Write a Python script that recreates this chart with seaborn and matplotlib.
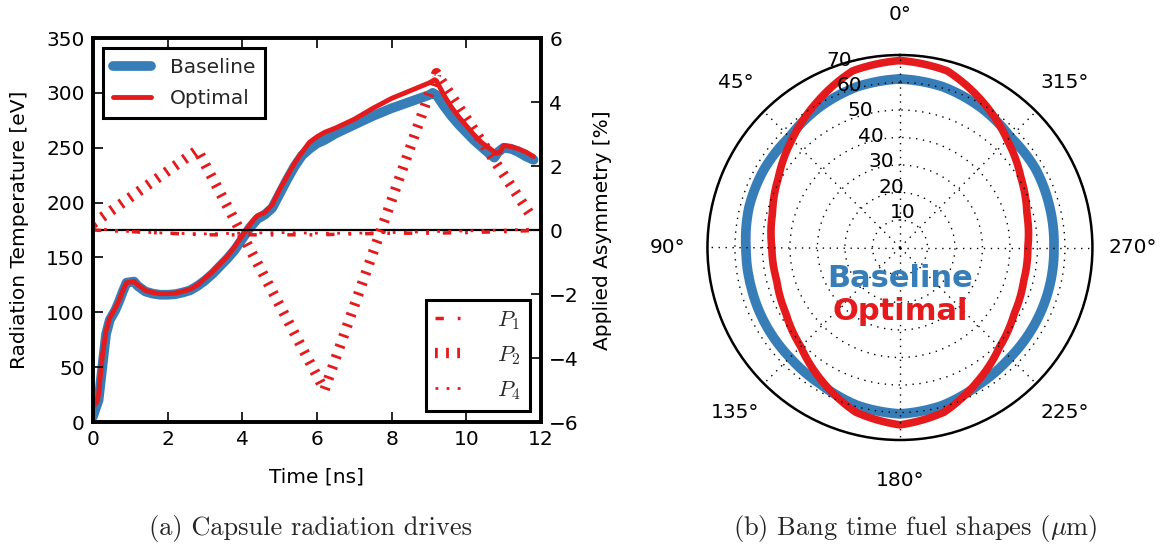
import numpy as np
import matplotlib
matplotlib.use("Agg")
import matplotlib.pyplot as plt
import seaborn as sns

# Radiation drive temperature [eV] against time [ns]
time_base = [0.0, 0.1, 0.15, 0.25, 0.35, 0.45, 0.6, 0.7, 0.8, 0.9, 1.1, 1.2, 1.4, 1.6, 1.8,
             2.0, 2.2, 2.4, 2.6, 2.8, 3.0, 3.2, 3.4, 3.6, 3.8, 4.0, 4.2, 4.4, 4.6, 4.8,
             5.0, 5.2, 5.4, 5.6, 5.8, 6.0, 6.2, 6.5, 7.0, 7.5, 8.0, 8.5, 9.0, 9.1, 9.2,
             9.4, 9.6, 9.8, 10.0, 10.2, 10.4, 10.6, 10.75, 10.85, 11.0, 11.2, 11.4, 11.6, 11.8]
temp_base = [5, 15, 20, 50, 80, 93, 102, 110, 119, 127, 128, 124, 119, 117, 116,
             116, 116.5, 118, 120, 124, 129, 135, 142, 149, 157, 167, 177, 185, 189, 195,
             208, 221, 233, 243, 249, 254, 257, 263, 271, 279, 286, 292, 298, 300, 298,
             288, 279, 271, 264, 257, 251, 245, 241, 246, 250, 249, 246, 242, 239]

time_opt = [0.0, 0.1, 0.15, 0.25, 0.35, 0.45, 0.6, 0.7, 0.8, 0.9, 1.1, 1.2, 1.4, 1.6, 1.8,
            2.0, 2.2, 2.4, 2.6, 2.8, 3.0, 3.2, 3.4, 3.6, 3.8, 4.0, 4.2, 4.4, 4.6, 4.8,
            5.0, 5.2, 5.4, 5.6, 5.8, 6.0, 6.2, 6.5, 7.0, 7.5, 8.0, 8.5, 9.0, 9.15, 9.2,
            9.4, 9.6, 9.8, 10.0, 10.2, 10.4, 10.6, 10.8, 10.9, 11.0, 11.2, 11.4, 11.6, 11.8]
temp_opt = [14, 18, 25, 60, 83, 95, 104, 111, 120, 127, 128, 125, 120, 118, 117,
            117, 117.5, 119, 121, 125, 131, 137, 144, 151, 160, 170, 180, 188, 191, 198,
            212, 224, 236, 246, 255, 260, 264, 268, 276, 286, 295, 302, 309, 312, 311,
            298, 287, 278, 270, 262, 255, 250, 245, 246, 252, 251, 249, 246, 242]

# Applied drive asymmetry modes [%]
time_p2 = [0.0, 2.8, 6.2, 9.2, 11.7]
asym_p2 = [0.2, 2.5, -5.0, 4.9, 0.5]
time_p14 = [0.0, 1.0, 2.0, 3.0, 4.0, 5.0, 6.0, 7.0, 8.0, 9.0, 10.0, 11.0, 11.7]
asym_p1 = [0.0, -0.05, -0.1, -0.15, -0.15, -0.15, -0.15, -0.12, -0.1, -0.1, -0.08, -0.05, -0.02]
asym_p4 = [0.05, -0.05, -0.1, -0.12, -0.1, -0.08, -0.1, -0.1, -0.08, -0.05, -0.03, 0.0, 0.02]

# Fuel shell radius at bang time [um] against polar angle [deg]
angle_deg = [0, 15, 30, 45, 60, 75, 90, 105, 120, 135, 150, 165, 180,
             195, 210, 225, 240, 255, 270, 285, 300, 315, 330, 345, 360]
radius_base = [61.3, 60.5, 58.8, 56.8, 57.0, 56.8, 56.0, 56.0, 56.3, 56.6, 57.5, 59.5, 60.5,
               59.5, 57.5, 56.6, 56.4, 56.2, 56.0, 56.4, 57.0, 56.8, 58.8, 60.5, 61.3]
radius_opt = [68.0, 66.5, 60.8, 55.5, 51.0, 48.0, 46.6, 46.4, 47.9, 51.0, 56.3, 62.0, 64.5,
              62.0, 56.3, 51.2, 48.0, 46.6, 46.5, 47.8, 50.8, 55.2, 60.8, 66.5, 68.0]

BLUE = "#377eb8"
RED = "#e41a1c"

sns.set_theme(style="ticks")
plt.rcParams.update({
    "font.family": ["DejaVu Sans"],
    "font.size": 14.5,
    "mathtext.fontset": "cm",
    "lines.scale_dashes": False,
    "axes.linewidth": 2.6,
    "axes.edgecolor": "black",
    "axes.labelcolor": "black",
    "axes.labelsize": 14.5,
    "axes.axisbelow": False,
    "xtick.color": "black",
    "ytick.color": "black",
    "xtick.labelsize": 14.5,
    "ytick.labelsize": 14.5,
    "xtick.direction": "in",
    "ytick.direction": "in",
    "xtick.major.size": 7,
    "ytick.major.size": 7,
    "xtick.major.width": 1.2,
    "ytick.major.width": 1.2,
    "xtick.major.pad": 6,
    "ytick.major.pad": 6,
    "legend.frameon": True,
    "legend.fancybox": False,
    "legend.edgecolor": "black",
    "legend.framealpha": 1.0,
    "legend.fontsize": 14.5,
})

fig = plt.figure(figsize=(11.68, 5.5), dpi=100)

# ---------------- (a) radiation drives ----------------
ax1 = fig.add_axes([0.0796, 0.2327, 0.3836, 0.6982])
ax2 = ax1.twinx()

sns.lineplot(x=time_base, y=temp_base, ax=ax1, color=BLUE, linewidth=7,
             sort=False, estimator=None, label="Baseline")
sns.lineplot(x=time_opt, y=temp_opt, ax=ax1, color=RED, linewidth=3.5,
             sort=False, estimator=None, label="Optimal")

ax2.axhline(0, color="black", linewidth=1.6, zorder=1)
sns.lineplot(x=time_p14, y=asym_p1, ax=ax2, color=RED, linewidth=2.5,
             linestyle=(0, (6, 10, 2, 10)), sort=False, estimator=None, label="$P_1$")
sns.lineplot(x=time_p2, y=asym_p2, ax=ax2, color=RED, linewidth=7.5,
             linestyle=(0, (2, 6)), sort=False, estimator=None, label="$P_2$")
sns.lineplot(x=time_p14, y=asym_p4, ax=ax2, color=RED, linewidth=2.0,
             linestyle=(0, (2, 6)), sort=False, estimator=None, label="$P_4$")

ax1.set_xlim(0, 12)
ax1.set_ylim(0, 350)
ax2.set_ylim(-6, 6)
ax1.set_xticks(range(0, 13, 2))
ax1.set_yticks(range(0, 351, 50))
ax2.set_yticks(range(-6, 7, 2))
ax1.tick_params(top=True)
for ax in (ax1, ax2):
    for sp in ax.spines.values():
        sp.set_linewidth(2.6)

ax1.set_xlabel("Time [ns]", labelpad=13)
ax1.set_ylabel("Radiation Temperature [eV]", labelpad=12)
ax2.set_ylabel("Applied Asymmetry [%]", labelpad=10)

leg1 = ax1.legend(loc="upper left", handlelength=1.9, borderpad=0.5,
                  labelspacing=0.6, handletextpad=0.9)
leg1.get_frame().set_linewidth(2.2)
leg2 = ax2.legend(loc="lower right", handlelength=1.2, borderpad=0.4,
                  labelspacing=0.55, handletextpad=1.6, fontsize=16)
leg2.get_frame().set_linewidth(2.2)

# ---------------- (b) fuel shapes ----------------
pax = fig.add_axes([0.6057, 0.2, 0.3296, 0.7], projection="polar")
pax.set_theta_zero_location("N")
pax.set_theta_direction(1)

theta = np.deg2rad(angle_deg)
sns.lineplot(x=theta, y=radius_base, ax=pax, color=BLUE, linewidth=7,
             sort=False, estimator=None)
sns.lineplot(x=theta, y=radius_opt, ax=pax, color=RED, linewidth=5.5,
             sort=False, estimator=None)
# draw the segments between samples as arcs in polar space
for ln in pax.get_lines():
    ln.get_path()._interpolation_steps = 24

pax.set_ylim(0, 70)
pax.set_yticks(range(10, 71, 10))
pax.set_thetagrids(range(0, 360, 45))
pax.set_rlabel_position(22.5)
pax.set_axisbelow(False)
pax.grid(True, color="black", linestyle=(0, (1, 4)), linewidth=1.0)
pax.tick_params(axis="x", pad=22, length=0)
pax.tick_params(axis="y", length=0)
pax.spines["polar"].set_linewidth(1.8)
pax.set_xlabel("")
pax.set_ylabel("")

pax.text(0.5, 0.397, "Baseline", transform=pax.transAxes, ha="center",
         va="baseline", color=BLUE, fontsize=22, fontweight="bold")
pax.text(0.5, 0.312, "Optimal", transform=pax.transAxes, ha="center",
         va="baseline", color=RED, fontsize=22, fontweight="bold")

# ---------------- sub-captions ----------------
fig.text(0.266, 0.027, "(a) Capsule radiation drives", ha="center", va="baseline",
         family="cmr10", fontsize=19)
fig.text(0.784, 0.027, r"(b) Bang time fuel shapes ($\mu$m)", ha="center",
         va="baseline", family="cmr10", fontsize=19)

fig.savefig("out.png", dpi=100)
